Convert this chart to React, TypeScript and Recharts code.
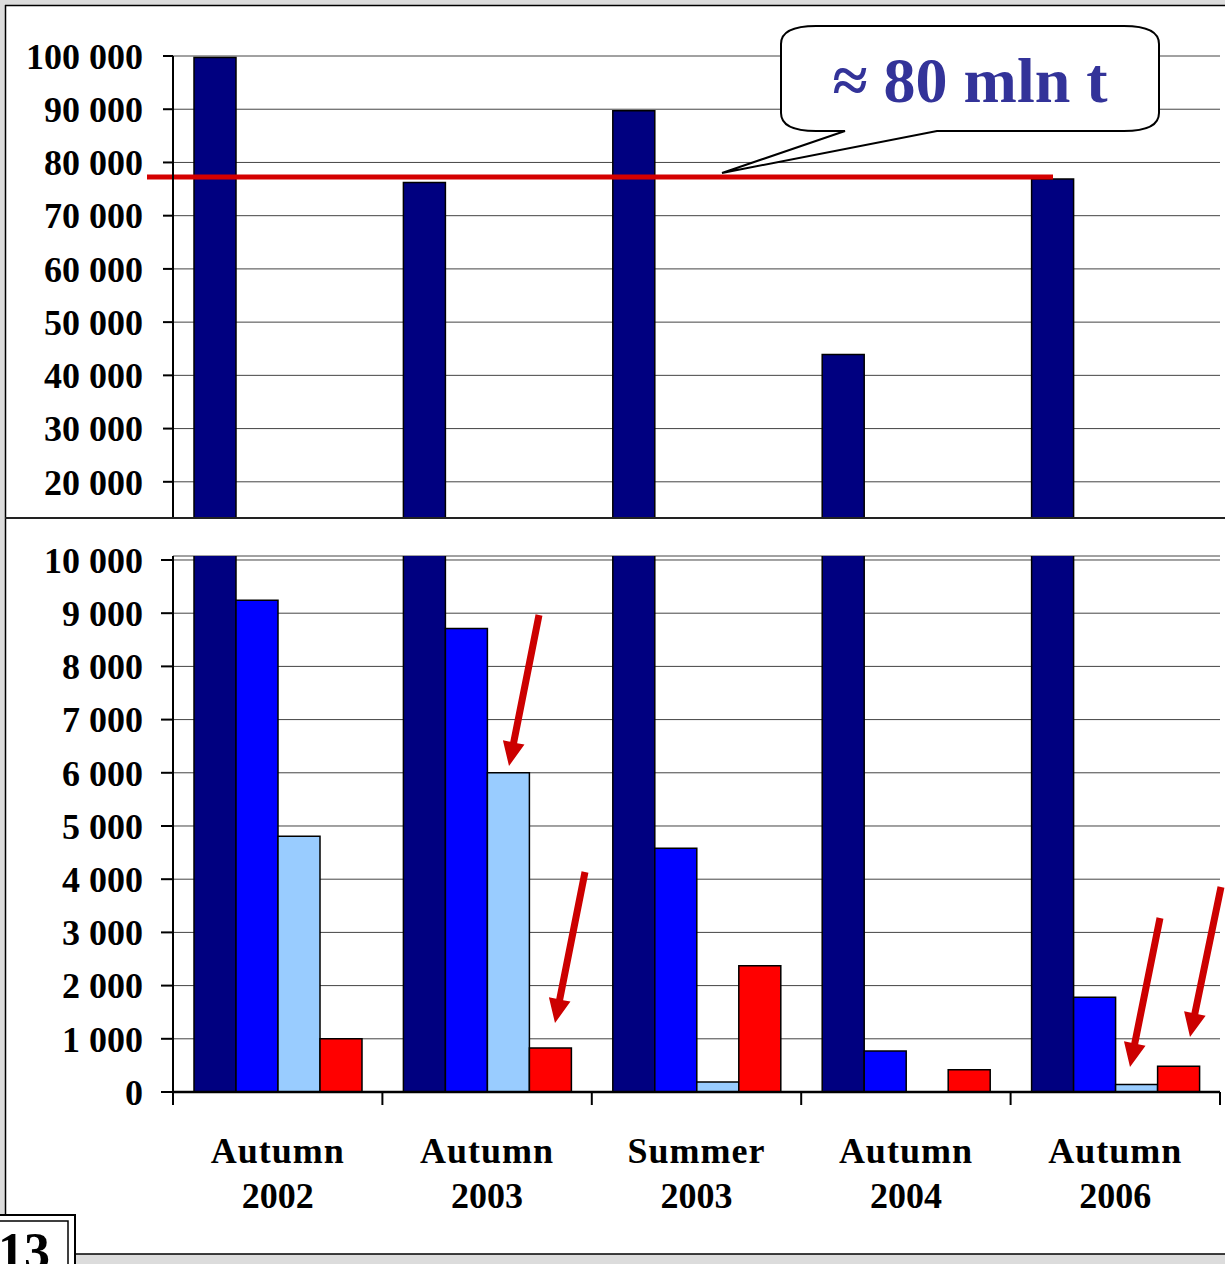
import React from 'react';
import { BarChart, Bar, XAxis, YAxis, CartesianGrid, ReferenceLine } from 'recharts';

// Sampling campaigns
const seasons = ['Autumn', 'Autumn', 'Summer', 'Autumn', 'Autumn'];
const years = ['2002', '2003', '2003', '2004', '2006'];

// Values per campaign (t)
const navyValues = [99700, 76250, 89700, 43900, 76900];
const blueValues = [9245, 8710, 4580, 770, 1780];
const lightValues: (number | null)[] = [4805, 6000, 190, null, 140];
const redValues = [1000, 828, 2375, 420, 482];

// Tick values for the upper (broken) scale and the lower scale
const upperTicks = [20000, 30000, 40000, 50000, 60000, 70000, 80000, 90000, 100000];
const lowerTicks = [0, 1000, 2000, 3000, 4000, 5000, 6000, 7000, 8000, 9000, 10000];

const calloutText = '≈ 80 mln t';
const pageNumber = '13';

const upperRows = seasons.map((s, i) => ({ name: `${s} ${years[i]}`, navy: navyValues[i] }));
const lowerRows = seasons.map((s, i) => ({
  name: `${s} ${years[i]}`,
  navy: navyValues[i],
  blue: blueValues[i],
  light: lightValues[i],
  red: redValues[i],
}));
const navyMean = navyValues.reduce((a, b) => a + b, 0) / navyValues.length;

const W = 1225;
const H = 1264;
const AXIS_X = 173;
const PLOT_RIGHT = 1220;
const SPLIT_Y = 518;
const FONT = '"Liberation Serif", "Times New Roman", serif';
const BAND = (PLOT_RIGHT - AXIS_X) / seasons.length;

const COLORS = { navy: '#000080', blue: '#0000FF', light: '#99CCFF', red: '#FF0000' };
const ARROW = '#CC0000';

const fmt = (v: number) => String(v).replace(/\B(?=(\d{3})+(?!\d))/g, ' ');

const yTick = { fill: '#000', fontSize: 36, fontWeight: 700, fontFamily: FONT };

const CategoryTick = (props: any) => {
  const { x, y, index, payload } = props;
  const i = index ?? 0;
  const parts = String(payload.value).split(' ');
  const left = x - BAND / 2;
  const right = x + BAND / 2;
  return (
    <g>
      <line x1={left} y1={y} x2={left} y2={y + 13} stroke="#000" strokeWidth={2} />
      {i === seasons.length - 1 && (
        <line x1={right} y1={y} x2={right} y2={y + 13} stroke="#000" strokeWidth={2} />
      )}
      <text x={x} y={y + 71} textAnchor="middle" fontFamily={FONT} fontWeight={700} fontSize={36} letterSpacing={1} fill="#000">
        {parts[0]}
      </text>
      <text x={x} y={y + 116} textAnchor="middle" fontFamily={FONT} fontWeight={700} fontSize={36} fill="#000">
        {parts[1]}
      </text>
    </g>
  );
};

const MeanLine = (p: any) => (
  <line x1={p.x1 - 26} y1={p.y1} x2={p.x2 - 167} y2={p.y2} stroke="#D40000" strokeWidth={5} />
);

const Arrow = ({ x1, y1, x2, y2 }: { x1: number; y1: number; x2: number; y2: number }) => {
  const dx = x2 - x1;
  const dy = y2 - y1;
  const len = Math.hypot(dx, dy);
  const ux = dx / len;
  const uy = dy / len;
  const px = -uy;
  const py = ux;
  const headLen = 24;
  const headHalf = 11;
  const shaftHalf = 3.5;
  const bx = x2 - ux * headLen;
  const by = y2 - uy * headLen;
  const pts = [
    [x1 + px * shaftHalf, y1 + py * shaftHalf],
    [bx + px * shaftHalf, by + py * shaftHalf],
    [bx + px * headHalf, by + py * headHalf],
    [x2, y2],
    [bx - px * headHalf, by - py * headHalf],
    [bx - px * shaftHalf, by - py * shaftHalf],
    [x1 - px * shaftHalf, y1 - py * shaftHalf],
  ];
  return <polygon points={pts.map((q) => q.join(',')).join(' ')} fill={ARROW} />;
};

const barStroke = { stroke: '#000', strokeWidth: 1.5 };

export default function App() {
  return (
    <div style={{ position: 'absolute', left: 0, top: 0, width: W, height: H, background: '#fff', overflow: 'hidden' }}>
      {/* slide frame */}
      <svg width={W} height={H} style={{ position: 'absolute', left: 0, top: 0 }}>
        <rect x={0} y={0} width={W} height={5} fill="#DCDCDC" />
        <rect x={0} y={0} width={5} height={1216} fill="#DCDCDC" />
        <line x1={5} y1={5.5} x2={W} y2={5.5} stroke="#000" strokeWidth={1.5} />
        <line x1={5.5} y1={5} x2={5.5} y2={1216} stroke="#000" strokeWidth={1.5} />
        <rect x={72} y={1254} width={W - 72} height={10} fill="#DCDCDC" />
        <line x1={72} y1={1254} x2={W} y2={1254} stroke="#000" strokeWidth={1.5} />
      </svg>

      {/* upper panel: 13 000 – 100 000 t */}
      <div style={{ position: 'absolute', left: 0, top: 0 }}>
        <BarChart
          width={W}
          height={SPLIT_Y}
          data={upperRows}
          margin={{ top: 56, right: W - PLOT_RIGHT, bottom: 0, left: 0 }}
          barCategoryGap={21}
          barGap={0}
        >
          <CartesianGrid horizontal vertical={false} stroke="#444" strokeWidth={1} />
          <XAxis dataKey="name" hide />
          <YAxis
            width={AXIS_X}
            domain={[13200, 100000]}
            allowDataOverflow
            ticks={upperTicks}
            tickFormatter={fmt}
            tick={yTick}
            tickSize={10}
            tickMargin={20}
            axisLine={{ stroke: '#000', strokeWidth: 2 }}
            tickLine={{ stroke: '#000', strokeWidth: 2 }}
          />
          <Bar dataKey="navy" fill={COLORS.navy} {...barStroke} isAnimationActive={false} />
          <Bar dataKey="blue" fill={COLORS.blue} {...barStroke} isAnimationActive={false} />
          <Bar dataKey="light" fill={COLORS.light} {...barStroke} isAnimationActive={false} />
          <Bar dataKey="red" fill={COLORS.red} {...barStroke} isAnimationActive={false} />
          <ReferenceLine y={navyMean} shape={MeanLine} />
        </BarChart>
      </div>

      {/* lower panel: 0 – 10 000 t */}
      <div style={{ position: 'absolute', left: 0, top: SPLIT_Y }}>
        <BarChart
          width={W}
          height={H - SPLIT_Y}
          data={lowerRows}
          margin={{ top: 38, right: W - PLOT_RIGHT, bottom: 0, left: 0 }}
          barCategoryGap={21}
          barGap={0}
        >
          <CartesianGrid horizontal vertical={false} stroke="#444" strokeWidth={1} />
          <XAxis
            dataKey="name"
            height={172}
            interval={0}
            tick={<CategoryTick />}
            tickLine={false}
            tickSize={0}
            tickMargin={0}
            axisLine={{ stroke: '#000', strokeWidth: 2.5 }}
          />
          <YAxis
            width={AXIS_X}
            domain={[0, 10075]}
            allowDataOverflow
            ticks={lowerTicks}
            tickFormatter={fmt}
            tick={yTick}
            tickSize={12}
            tickMargin={18}
            axisLine={{ stroke: '#000', strokeWidth: 2 }}
            tickLine={{ stroke: '#000', strokeWidth: 2 }}
          />
          <Bar dataKey="navy" fill={COLORS.navy} {...barStroke} isAnimationActive={false} />
          <Bar dataKey="blue" fill={COLORS.blue} {...barStroke} isAnimationActive={false} />
          <Bar dataKey="light" fill={COLORS.light} {...barStroke} isAnimationActive={false} />
          <Bar dataKey="red" fill={COLORS.red} {...barStroke} isAnimationActive={false} />
        </BarChart>
      </div>

      {/* panel divider, callout, arrows, page number */}
      <svg width={W} height={H} style={{ position: 'absolute', left: 0, top: 0, pointerEvents: 'none' }}>
        <line x1={5} y1={SPLIT_Y} x2={W} y2={SPLIT_Y} stroke="#222" strokeWidth={2} />
        <path
          d="M 816 26 L 1124 26 Q 1159 26 1159 44 L 1159 113 Q 1159 131 1124 131 L 937 131 L 722 173 L 845 131 L 816 131 Q 781 131 781 113 L 781 44 Q 781 26 816 26 Z"
          fill="#fff"
          stroke="#000"
          strokeWidth={2}
        />
        <text x={970} y={102} textAnchor="middle" fontFamily={FONT} fontWeight={700} fontSize={64} fill="#333399">
          {calloutText}
        </text>
        <Arrow x1={539} y1={615} x2={509} y2={766} />
        <Arrow x1={585} y1={872} x2={555} y2={1023} />
        <Arrow x1={1160} y1={918} x2={1130} y2={1067} />
        <Arrow x1={1221} y1={887} x2={1190} y2={1037} />
        <rect x={-2} y={1215} width={77} height={60} fill="#fff" stroke="#000" strokeWidth={2} />
        <rect x={-2} y={1221} width={70} height={60} fill="#fff" stroke="#000" strokeWidth={1.5} />
        <text x={-2} y={1269} fontFamily={FONT} fontWeight={700} fontSize={52} fill="#000">
          {pageNumber}
        </text>
      </svg>
    </div>
  );
}
